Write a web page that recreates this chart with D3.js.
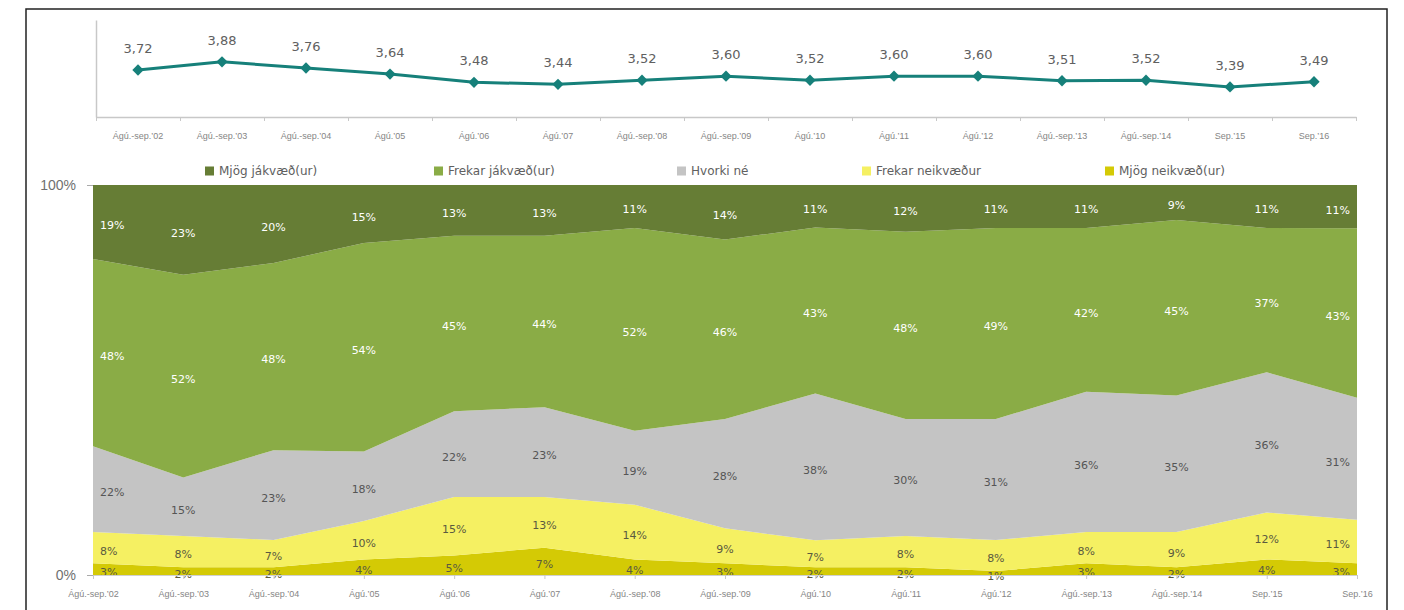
<!DOCTYPE html>
<html>
<head>
<meta charset="utf-8">
<script src="https://cdn.jsdelivr.net/npm/d3@7"></script>
<style>
  body { margin: 0; background: #fff; }
  svg { font-family: "DejaVu Sans", Verdana, sans-serif; }
</style>
</head>
<body>
<div id="chart"></div>
<script>
// categories and values
var categories = ["Ágú.-sep.’02", "Ágú.-sep.’03", "Ágú.-sep.’04", "Ágú.’05", "Ágú.’06", "Ágú.’07",
  "Ágú.-sep.’08", "Ágú.-sep.’09", "Ágú.’10", "Ágú.’11", "Ágú.’12", "Ágú.-sep.’13",
  "Ágú.-sep.’14", "Sep.’15", "Sep.’16"];
var meanScore = [3.72, 3.88, 3.76, 3.64, 3.48, 3.44, 3.52, 3.60, 3.52, 3.60, 3.60, 3.51, 3.52, 3.39, 3.49];

var seriesNames = ["Mjög jákvæð(ur)", "Frekar jákvæð(ur)", "Hvorki né", "Frekar neikvæður", "Mjög neikvæð(ur)"];
var mjogJakv   = [19, 23, 20, 15, 13, 13, 11, 14, 11, 12, 11, 11, 9, 11, 11];
var frekarJakv = [48, 52, 48, 54, 45, 44, 52, 46, 43, 48, 49, 42, 45, 37, 43];
var hvorki     = [22, 15, 23, 18, 22, 23, 19, 28, 38, 30, 31, 36, 35, 36, 31];
var frekarNeik = [8, 8, 7, 10, 15, 13, 14, 9, 7, 8, 8, 8, 9, 12, 11];
var mjogNeik   = [3, 2, 2, 4, 5, 7, 4, 3, 2, 2, 1, 3, 2, 4, 3];
var seriesColors = ["#667d35", "#8aac46", "#c4c4c4", "#f5f062", "#d4ca05"];
var labelColors = ["#ffffff", "#ffffff", "#555555", "#5a5a40", "#5a5a40"];

var width = 1404, height = 610;
var svg = d3.select("#chart").append("svg")
    .attr("width", width)
    .attr("height", height);

// outer frame
svg.append("rect")
    .attr("x", 26).attr("y", 9)
    .attr("width", 1361).attr("height", 620)
    .attr("fill", "none")
    .attr("stroke", "#222")
    .attr("stroke-width", 1.5);

// ---- top line chart ----
var xTop = d3.scaleBand().domain(categories).range([96, 1356]);
var yTop = d3.scaleLinear().domain([2.8, 4.7]).range([117, 20]);

var lineChart = svg.append("g");

lineChart.append("g")
    .attr("transform", "translate(96,0)")
    .call(d3.axisLeft(yTop).tickValues([]).tickSizeOuter(0))
    .select(".domain").attr("stroke", "#c8c8c8").attr("stroke-width", 1.5);

var xTicks = d3.scaleLinear().domain([0, categories.length]).range([96, 1356]);
lineChart.append("g")
    .attr("transform", "translate(0,117)")
    .call(d3.axisBottom(xTicks).ticks(categories.length).tickFormat("").tickSize(4).tickSizeOuter(0))
    .call(function(g) {
      g.select(".domain").attr("stroke", "#c8c8c8").attr("stroke-width", 1.5);
      g.selectAll(".tick line").attr("stroke", "#c8c8c8");
    });

lineChart.append("g")
    .attr("transform", "translate(0,117)")
    .call(d3.axisBottom(xTop).tickSize(0).tickPadding(16))
    .call(function(g) {
      g.select(".domain").remove();
      g.selectAll("text").attr("font-size", 9).attr("fill", "#858585").attr("font-family", null);
    });

var line = d3.line()
    .x(function(d, i) { return xTop(categories[i]) + xTop.bandwidth() / 2; })
    .y(function(d) { return yTop(d); });

lineChart.append("path")
    .datum(meanScore)
    .attr("fill", "none")
    .attr("stroke", "#16807a")
    .attr("stroke-width", 3)
    .attr("d", line);

lineChart.selectAll(".marker")
    .data(meanScore)
    .enter()
    .append("path")
    .attr("d", d3.symbol().type(d3.symbolSquare).size(64))
    .attr("transform", function(d, i) {
      return "translate(" + (xTop(categories[i]) + xTop.bandwidth() / 2) + "," + yTop(d) + ") rotate(45)";
    })
    .attr("fill", "#16807a");

lineChart.selectAll(".val")
    .data(meanScore)
    .enter()
    .append("text")
    .attr("x", function(d, i) { return xTop(categories[i]) + xTop.bandwidth() / 2; })
    .attr("y", function(d) { return yTop(d) - 17; })
    .attr("text-anchor", "middle")
    .attr("font-size", 13)
    .attr("fill", "#606060")
    .text(function(d) { return d3.format(".2f")(d).replace(".", ","); });

// ---- legend ----
var legendX = [205, 434, 677, 862, 1105];
var legend = svg.selectAll(".legend")
    .data(seriesNames)
    .enter()
    .append("g")
    .attr("transform", function(d, i) { return "translate(" + legendX[i] + ",171)"; });
legend.append("rect")
    .attr("x", 0).attr("y", -4.5)
    .attr("width", 9).attr("height", 9)
    .attr("fill", function(d, i) { return seriesColors[i]; });
legend.append("text")
    .attr("x", 14).attr("y", 0)
    .attr("dy", "0.35em")
    .attr("font-size", 12)
    .attr("fill", "#606060")
    .text(function(d) { return d; });

// ---- 100% stacked area ----
var table = categories.map(function(c, i) {
  return { cat: c, s0: mjogNeik[i], s1: frekarNeik[i], s2: hvorki[i], s3: frekarJakv[i], s4: mjogJakv[i] };
});
var keys = ["s0", "s1", "s2", "s3", "s4"]; // bottom to top
var keyIndex = { s0: 4, s1: 3, s2: 2, s3: 1, s4: 0 }; // index into seriesNames/colors

var stacked = d3.stack().keys(keys).offset(d3.stackOffsetExpand)(table);

var x = d3.scalePoint().domain(categories).range([93, 1357]);
var y = d3.scaleLinear().domain([0, 1]).range([575, 185]);

var area = d3.area()
    .x(function(d) { return x(d.data.cat); })
    .y0(function(d) { return y(d[0]); })
    .y1(function(d) { return y(d[1]); });

var areas = svg.append("g");
areas.selectAll("path")
    .data(stacked)
    .enter()
    .append("path")
    .attr("d", area)
    .attr("fill", function(d) { return seriesColors[keyIndex[d.key]]; });

stacked.forEach(function(s) {
  var k = keyIndex[s.key];
  areas.selectAll(".lab-" + s.key)
      .data(s)
      .enter()
      .append("text")
      .attr("x", function(d, i) {
        if (i === 0) return x(d.data.cat) + 7;
        if (i === categories.length - 1) return x(d.data.cat) - 7;
        return x(d.data.cat);
      })
      .attr("y", function(d) { return y((d[0] + d[1]) / 2) + 3; })
      .attr("dy", "0.35em")
      .attr("text-anchor", function(d, i) {
        if (i === 0) return "start";
        if (i === categories.length - 1) return "end";
        return "middle";
      })
      .attr("font-size", 11)
      .attr("fill", labelColors[k])
      .text(function(d) { return d.data[s.key] + "%"; });
});

svg.append("g")
    .attr("transform", "translate(93,0)")
    .call(d3.axisLeft(y).tickValues([0, 1]).tickFormat(d3.format(".0%")).tickSize(6).tickPadding(11))
    .call(function(g) {
      g.select(".domain").remove();
      g.selectAll(".tick line").attr("stroke", "#aaa");
      g.selectAll("text").attr("font-size", 14).attr("fill", "#707070").attr("font-family", null);
    });

svg.append("g")
    .attr("transform", "translate(0,575)")
    .call(d3.axisBottom(x).tickSize(4).tickPadding(12))
    .call(function(g) {
      g.select(".domain").attr("stroke", "#d0d0d0");
      g.selectAll(".tick line").attr("stroke", "#c8c8c8");
      g.selectAll("text").attr("font-size", 9).attr("fill", "#858585").attr("font-family", null);
    });
</script>
</body>
</html>
